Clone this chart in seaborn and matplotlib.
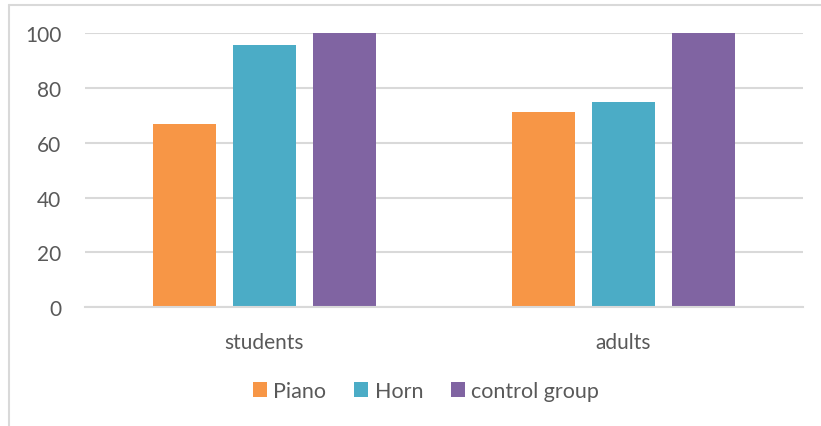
import matplotlib
matplotlib.use("Agg")
import matplotlib.pyplot as plt
from matplotlib.lines import Line2D
import pandas as pd
import seaborn as sns

# Data
groups = ["students", "adults"]
conditions = ["Piano", "Horn", "control group"]
piano = [66.7, 71.4]
horn = [95.8, 75.0]
control = [100.0, 100.0]
colors = ["#F79646", "#4BACC6", "#8064A2"]
y_ticks = [0, 20, 40, 60, 80, 100]

rows = []
for cond, vals in zip(conditions, [piano, horn, control]):
    for g, v in zip(groups, vals):
        rows.append({"group": g, "condition": cond, "value": v})
df = pd.DataFrame(rows)

sns.set_theme(style="white")
plt.rcParams["font.family"] = ["Lato", "DejaVu Sans"]
text_color = "#595959"
grid_color = "#D9D9D9"

W, H = 821, 427
fig = plt.figure(figsize=(W / 100, H / 100), dpi=100)
fig.patch.set_facecolor("white")
ax = fig.add_axes([85 / W, 1 - 308 / H, (803 - 85) / W, (308 - 34.3) / H])

sns.barplot(data=df, x="group", y="value", hue="condition",
            order=groups, hue_order=conditions, palette=colors,
            saturation=1, width=0.667, gap=0.2125, ax=ax,
            edgecolor="none", linewidth=0)

ax.set_xlim(-0.5, 1.5)
ax.set_ylim(0, 100)
ax.set_yticks(y_ticks)
ax.set_yticklabels([str(t) for t in y_ticks])
ax.set_xlabel("")
ax.set_ylabel("")
ax.yaxis.grid(True, color=grid_color, linewidth=1.5)
ax.set_axisbelow(True)
for s in ["top", "right", "left"]:
    ax.spines[s].set_visible(False)
ax.spines["bottom"].set_color(grid_color)
ax.spines["bottom"].set_linewidth(1.5)
ax.tick_params(axis="y", length=0, pad=17, labelsize=15, labelcolor=text_color)
ax.tick_params(axis="x", length=0, pad=18, labelsize=15, labelcolor=text_color)

sns.move_legend(ax, loc="center", bbox_to_anchor=(426 / W, 1 - 392 / H),
                bbox_transform=fig.transFigure, ncol=3, frameon=False,
                title=None, fontsize=15.5, handlelength=0.65, handleheight=0.65,
                handletextpad=0.3, columnspacing=1.3, labelcolor=text_color)

# Chart area border (left and top edges)
fig.add_artist(Line2D([8.5 / W, 8.5 / W], [0, 1 - 5.5 / H], transform=fig.transFigure,
                      color=grid_color, linewidth=1.5))
fig.add_artist(Line2D([8.5 / W, 1], [1 - 5.5 / H, 1 - 5.5 / H], transform=fig.transFigure,
                      color=grid_color, linewidth=1.5))

fig.savefig("out.png", dpi=100, facecolor="white")
